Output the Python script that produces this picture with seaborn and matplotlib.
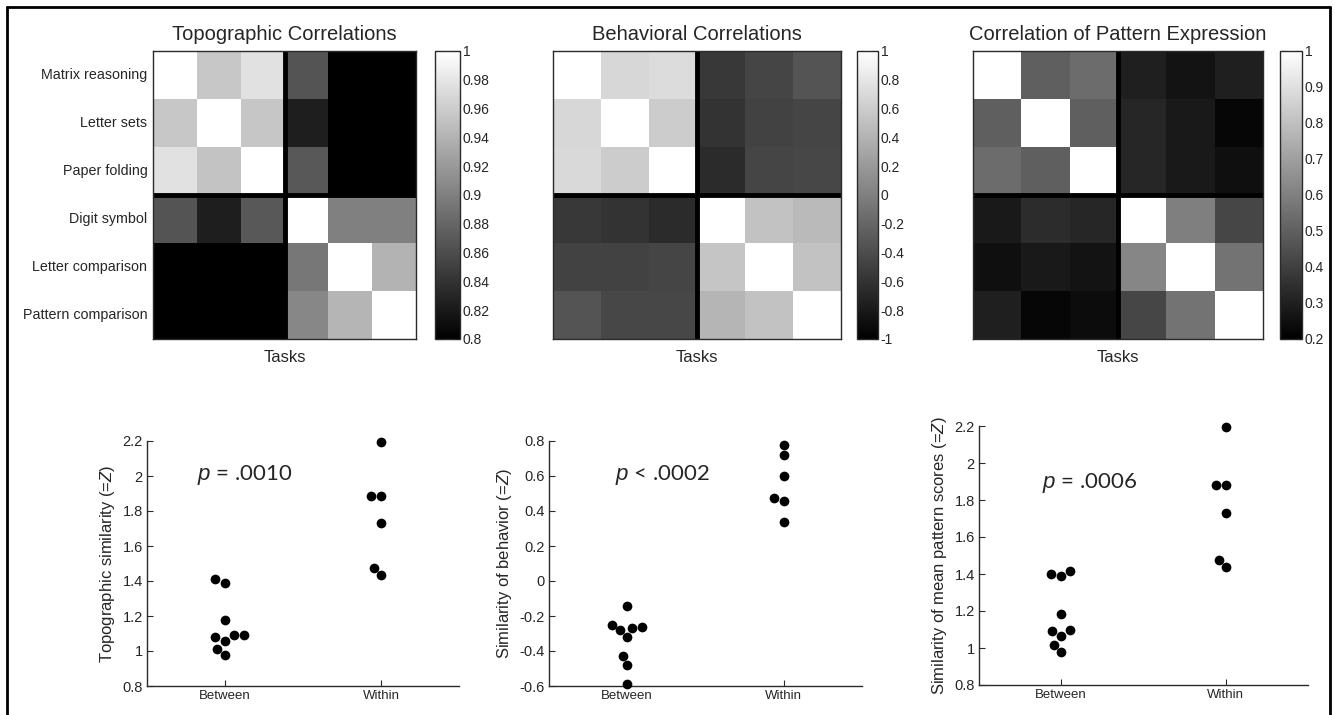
import numpy as np
import pandas as pd
import matplotlib
matplotlib.use("Agg")
import matplotlib.pyplot as plt
from matplotlib.lines import Line2D
import seaborn as sns

# ---- data ----
TASKS = ["Matrix reasoning", "Letter sets", "Paper folding",
         "Digit symbol", "Letter comparison", "Pattern comparison"]

TOPO_CORR = [
    [1.000, 0.956, 0.976, 0.866, 0.780, 0.780],
    [0.956, 1.000, 0.955, 0.824, 0.780, 0.780],
    [0.976, 0.953, 1.000, 0.869, 0.780, 0.780],
    [0.866, 0.824, 0.869, 1.000, 0.900, 0.900],
    [0.780, 0.780, 0.780, 0.893, 1.000, 0.940],
    [0.780, 0.780, 0.780, 0.906, 0.942, 1.000],
]
BEHAV_CORR = [
    [1.00, 0.68, 0.72, -0.56, -0.46, -0.34],
    [0.68, 1.00, 0.60, -0.60, -0.48, -0.46],
    [0.70, 0.60, 1.00, -0.66, -0.46, -0.44],
    [-0.56, -0.60, -0.66, 1.00, 0.52, 0.46],
    [-0.48, -0.48, -0.46, 0.54, 1.00, 0.52],
    [-0.34, -0.44, -0.44, 0.42, 0.52, 1.00],
]
PATTERN_CORR = [
    [1.00, 0.50, 0.54, 0.30, 0.26, 0.30],
    [0.50, 1.00, 0.50, 0.32, 0.28, 0.22],
    [0.54, 0.50, 1.00, 0.32, 0.28, 0.25],
    [0.28, 0.34, 0.32, 1.00, 0.60, 0.42],
    [0.25, 0.28, 0.26, 0.62, 1.00, 0.56],
    [0.30, 0.22, 0.24, 0.42, 0.56, 1.00],
]
HEATMAP_TITLES = ["Topographic Correlations", "Behavioral Correlations",
                  "Correlation of Pattern Expression"]
CBAR_LIMITS = [(0.8, 1.0), (-1.0, 1.0), (0.2, 1.0)]
CBAR_TICKS = [
    [0.8, 0.82, 0.84, 0.86, 0.88, 0.9, 0.92, 0.94, 0.96, 0.98, 1.0],
    [-1.0, -0.8, -0.6, -0.4, -0.2, 0.0, 0.2, 0.4, 0.6, 0.8, 1.0],
    [0.2, 0.3, 0.4, 0.5, 0.6, 0.7, 0.8, 0.9, 1.0],
]

GROUPS = ["Between", "Within"]
TOPO_BETWEEN = [1.39, 1.41, 1.18, 1.09, 1.09, 1.08, 1.06, 1.01, 0.975]
TOPO_WITHIN = [2.195, 1.885, 1.885, 1.73, 1.475, 1.435]
BEHAV_BETWEEN = [-0.14, -0.25, -0.26, -0.27, -0.28, -0.32, -0.43, -0.48, -0.59]
BEHAV_WITHIN = [0.78, 0.72, 0.60, 0.475, 0.46, 0.34]
PATTERN_BETWEEN = [1.415, 1.40, 1.39, 1.185, 1.095, 1.09, 1.065, 1.015, 0.978]
PATTERN_WITHIN = [2.195, 1.882, 1.882, 1.73, 1.478, 1.44]

SCATTER_YLABELS = ["Topographic similarity (=$Z$)", "Similarity of behavior (=$Z$)",
                   "Similarity of mean pattern scores (=$Z$)"]
SCATTER_PTEXT = ["$p$ = .0010", "$p$ < .0002", "$p$ = .0006"]
SCATTER_LIMITS = [(0.8, 2.2), (-0.6, 0.8), (0.8, 2.2)]
SCATTER_TICKS = [
    [0.8, 1.0, 1.2, 1.4, 1.6, 1.8, 2.0, 2.2],
    [-0.6, -0.4, -0.2, 0.0, 0.2, 0.4, 0.6, 0.8],
    [0.8, 1.0, 1.2, 1.4, 1.6, 1.8, 2.0, 2.2],
]

# ---- layout (pixels -> figure fractions) ----
W, H = 1335, 715


def box(x0, y0, x1, y1):
    return [x0 / W, 1 - y1 / H, (x1 - x0) / W, (y1 - y0) / H]


HM_BOXES = [box(153, 51, 416, 339), box(553, 51, 841, 339), box(973, 51, 1263, 339)]
CB_BOXES = [box(435, 51, 460, 339), box(857, 51, 878, 339), box(1280, 51, 1302, 339)]
SC_BOXES = [box(147, 441, 459, 686), box(549, 441, 862, 686), box(979, 426, 1308, 685)]
PTEXT_POS = [(0.16, 0.86), (0.21, 0.86), (0.19, 0.78)]

sns.set_style("white")
plt.rcParams["font.family"] = ["Liberation Sans", "DejaVu Sans"]
plt.rcParams["mathtext.fontset"] = "custom"
plt.rcParams["mathtext.rm"] = "Liberation Sans"
plt.rcParams["mathtext.it"] = "Liberation Sans:italic"

EDGE = "#2a2a2a"


def fmt(v):
    return f"{v:g}" if abs(v) > 1e-9 else "0"


fig = plt.figure(figsize=(W / 100, H / 100), dpi=100)

# --- top row: correlation matrices ---
for i, mat in enumerate([TOPO_CORR, BEHAV_CORR, PATTERN_CORR]):
    ax = fig.add_axes(HM_BOXES[i])
    cax = fig.add_axes(CB_BOXES[i])
    lo, hi = CBAR_LIMITS[i]
    df = pd.DataFrame(mat, index=TASKS, columns=TASKS)
    sns.heatmap(df, ax=ax, cbar_ax=cax, cmap="gray", vmin=lo, vmax=hi,
                xticklabels=False, yticklabels=TASKS if i == 0 else False)
    # block separators
    ax.axhline(3, color="black", lw=3.5)
    ax.axvline(3, color="black", lw=3.5)
    centers = np.arange(len(TASKS)) + 0.5
    ax.set_xticks(centers)
    ax.set_xticklabels([])
    ax.set_yticks(centers)
    if i == 0:
        ax.set_yticklabels(TASKS, rotation=0, fontsize=10.3)
    else:
        ax.set_yticklabels([])
    ax.tick_params(direction="in", length=4, width=0.8, color=EDGE,
                   top=True, bottom=True, left=True, right=True, pad=4)
    for s in ax.spines.values():
        s.set_visible(True)
        s.set_color(EDGE)
        s.set_linewidth(1.0)
    ax.set_title(HEATMAP_TITLES[i], fontsize=14.5, pad=8)
    ax.set_xlabel("Tasks", fontsize=12, labelpad=4)

    cb = ax.collections[0].colorbar
    cb.set_ticks(CBAR_TICKS[i])
    cb.set_ticklabels([fmt(t) for t in CBAR_TICKS[i]])
    cb.outline.set_visible(True)
    cb.outline.set_edgecolor(EDGE)
    cb.outline.set_linewidth(1.0)
    cax.tick_params(direction="in", length=4, width=0.8, color=EDGE,
                    left=True, right=True, labelsize=10, pad=2)

# --- bottom row: between vs within similarity ---
scatter_data = [(TOPO_BETWEEN, TOPO_WITHIN), (BEHAV_BETWEEN, BEHAV_WITHIN),
                (PATTERN_BETWEEN, PATTERN_WITHIN)]
for i, (between, within) in enumerate(scatter_data):
    ax = fig.add_axes(SC_BOXES[i])
    df = pd.DataFrame({
        "group": ["Between"] * len(between) + ["Within"] * len(within),
        "value": between + within,
    })
    sns.swarmplot(data=df, x="group", y="value", order=GROUPS, color="black",
                  size=7, ax=ax)
    for coll in ax.collections:
        coll.set_clip_on(False)
    ax.set_xlim(-0.5, 1.5)
    lo, hi = SCATTER_LIMITS[i]
    ax.set_ylim(lo, hi)
    ax.set_yticks(SCATTER_TICKS[i])
    ax.set_yticklabels([fmt(t) for t in SCATTER_TICKS[i]], fontsize=10.5)
    ax.set_xticks([0, 1])
    ax.set_xticklabels(GROUPS, fontsize=9.5)
    ax.tick_params(direction="in", length=4, width=0.8, color=EDGE,
                   left=True, bottom=True, pad=3)
    sns.despine(ax=ax)
    for s in ["left", "bottom"]:
        ax.spines[s].set_color(EDGE)
        ax.spines[s].set_linewidth(1.0)
    ax.set_xlabel("")
    ax.set_ylabel(SCATTER_YLABELS[i], fontsize=12)
    px, py = PTEXT_POS[i]
    ax.text(px, py, SCATTER_PTEXT[i], transform=ax.transAxes, fontsize=16,
            family=["Lato", "DejaVu Sans"], va="center", ha="left")

# figure frame
for xs, ys in [([7 / W, 1330 / W], [1 - 7 / H, 1 - 7 / H]),
               ([7 / W, 7 / W], [0, 1 - 7 / H]),
               ([1330 / W, 1330 / W], [0, 1 - 7 / H])]:
    fig.add_artist(Line2D(xs, ys, transform=fig.transFigure, color="black", lw=2))

fig.savefig("out.png", dpi=100)
